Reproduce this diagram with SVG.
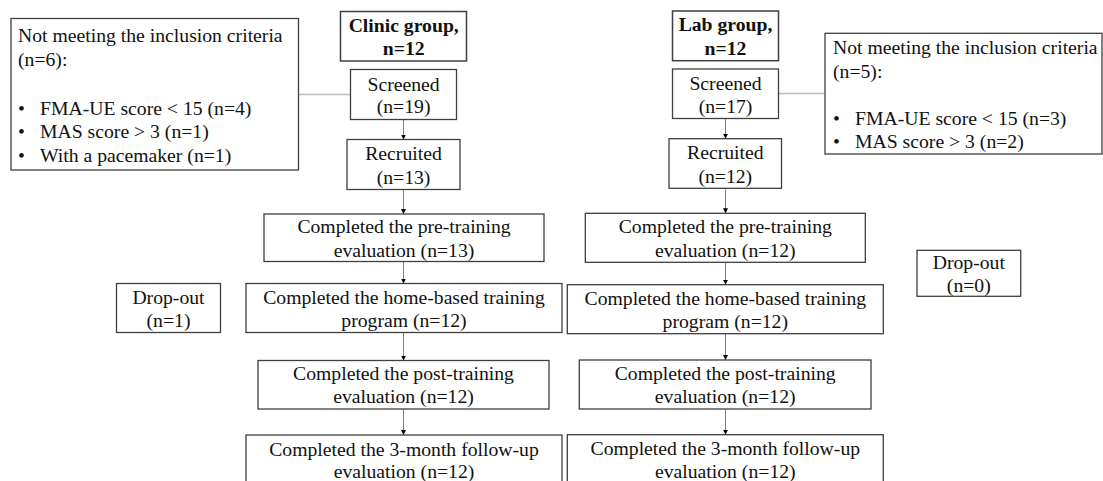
<svg xmlns="http://www.w3.org/2000/svg" width="1103" height="481" viewBox="0 0 1103 481">
<style>
  .box { fill: #ffffff; stroke: #3f3f3f; stroke-width: 1.3; }
  .hd { stroke-width: 1.5; }
  text { font-family: "Liberation Serif", "Times New Roman", serif; font-size: 19.7px; fill: #111111; }
  .c { text-anchor: middle; }
  .b { font-weight: bold; }
  .v { stroke: #7f7f7f; stroke-width: 1; fill: none; }
  .h { stroke: #bdbdbd; stroke-width: 1.3; fill: none; }
</style>
<defs>
  <marker id="arr" markerUnits="userSpaceOnUse" markerWidth="6" markerHeight="6" refX="5" refY="2.5" orient="auto">
    <path d="M0,0 L5,2.5 L0,5 Z" fill="#000000"/>
  </marker>
</defs>
<rect width="1103" height="481" fill="#ffffff"/>

<g id="connectors">
  <line class="h" x1="298.5" y1="94.5" x2="350.5" y2="94.5"/>
  <line class="h" x1="778.5" y1="93.5" x2="825" y2="93.5"/>
  <line class="v" x1="403.5" y1="119.5" x2="403.5" y2="139.5" marker-end="url(#arr)"/>
  <line class="v" x1="403.5" y1="189.5" x2="403.5" y2="214" marker-end="url(#arr)"/>
  <line class="v" x1="403.5" y1="261.5" x2="403.5" y2="283.5" marker-end="url(#arr)"/>
  <line class="v" x1="403.5" y1="332.5" x2="403.5" y2="360.5" marker-end="url(#arr)"/>
  <line class="v" x1="403.5" y1="409" x2="403.5" y2="435" marker-end="url(#arr)"/>
  <line class="v" x1="725.5" y1="118.5" x2="725.5" y2="138.7" marker-end="url(#arr)"/>
  <line class="v" x1="725.5" y1="188.3" x2="725.5" y2="213.3" marker-end="url(#arr)"/>
  <line class="v" x1="725.5" y1="262.3" x2="725.5" y2="284.7" marker-end="url(#arr)"/>
  <line class="v" x1="725.5" y1="333.7" x2="725.5" y2="360" marker-end="url(#arr)"/>
  <line class="v" x1="725.5" y1="409" x2="725.5" y2="434.7" marker-end="url(#arr)"/>
</g>

<g id="criteria-left">
  <rect class="box" x="11" y="18.5" width="287.5" height="151.5"/>
  <text x="18" y="42.3">Not meeting the inclusion criteria</text>
  <text x="18" y="65.6">(n=6):</text>
  <text x="18" y="115">•</text><text x="40" y="115">FMA-UE score &lt; 15 (n=4)</text>
  <text x="18" y="138.3">•</text><text x="40" y="138.3">MAS score &gt; 3 (n=1)</text>
  <text x="18" y="161.6">•</text><text x="40" y="161.6">With a pacemaker (n=1)</text>
</g>

<g id="clinic-group">
  <rect class="box hd" x="340.5" y="11.5" width="126" height="49.5"/>
  <text class="c b" x="403.7" y="31.7">Clinic group,</text>
  <text class="c b" x="403.7" y="55">n=12</text>
</g>

<g id="screened-left">
  <rect class="box" x="350.5" y="69.5" width="106" height="50"/>
  <text class="c" x="403.6" y="90.5">Screened</text>
  <text class="c" x="403.6" y="113">(n=19)</text>
</g>

<g id="recruited-left">
  <rect class="box" x="347" y="139.5" width="113" height="50"/>
  <text class="c" x="403.5" y="160.3">Recruited</text>
  <text class="c" x="403.5" y="183.5">(n=13)</text>
</g>

<g id="pre-left">
  <rect class="box" x="264" y="214" width="280" height="47.5"/>
  <text class="c" x="404" y="233.2">Completed the pre-training</text>
  <text class="c" x="404" y="256.5">evaluation (n=13)</text>
</g>

<g id="dropout-left">
  <rect class="box" x="116.5" y="283.5" width="104" height="49"/>
  <text class="c" x="168.5" y="303.5">Drop-out</text>
  <text class="c" x="168.5" y="326.8">(n=1)</text>
</g>

<g id="home-left">
  <rect class="box" x="246" y="283.5" width="316" height="49"/>
  <text class="c" x="404" y="303.5">Completed the home-based training</text>
  <text class="c" x="404" y="326.8">program (n=12)</text>
</g>

<g id="post-left">
  <rect class="box" x="258" y="360.5" width="291" height="48.5"/>
  <text class="c" x="403.5" y="380">Completed the post-training</text>
  <text class="c" x="403.5" y="403.4">evaluation (n=12)</text>
</g>

<g id="follow-left">
  <rect class="box" x="246" y="435" width="316" height="55"/>
  <text class="c" x="404" y="455.5">Completed the 3-month follow-up</text>
  <text class="c" x="404" y="478">evaluation (n=12)</text>
</g>

<g id="lab-group">
  <rect class="box hd" x="672.5" y="11" width="106" height="49.7"/>
  <text class="c b" x="725.5" y="31.3">Lab group,</text>
  <text class="c b" x="725.5" y="54.6">n=12</text>
</g>

<g id="screened-right">
  <rect class="box" x="672.5" y="69" width="106" height="49.5"/>
  <text class="c" x="725.5" y="89.8">Screened</text>
  <text class="c" x="725.5" y="112.6">(n=17)</text>
</g>

<g id="recruited-right">
  <rect class="box" x="669" y="138.7" width="112.5" height="49.6"/>
  <text class="c" x="725.3" y="159.3">Recruited</text>
  <text class="c" x="725.3" y="182.5">(n=12)</text>
</g>

<g id="criteria-right">
  <rect class="box" x="825" y="33.3" width="277" height="120.7"/>
  <text x="833" y="54.3">Not meeting the inclusion criteria</text>
  <text x="833" y="77.6">(n=5):</text>
  <text x="833" y="125">•</text><text x="855" y="125">FMA-UE score &lt; 15 (n=3)</text>
  <text x="833" y="148.3">•</text><text x="855" y="148.3">MAS score &gt; 3 (n=2)</text>
</g>

<g id="pre-right">
  <rect class="box" x="585.3" y="213.3" width="280" height="49"/>
  <text class="c" x="725.3" y="233.3">Completed the pre-training</text>
  <text class="c" x="725.3" y="256.6">evaluation (n=12)</text>
</g>

<g id="home-right">
  <rect class="box" x="567.3" y="284.7" width="316" height="49"/>
  <text class="c" x="725.3" y="304.7">Completed the home-based training</text>
  <text class="c" x="725.3" y="328">program (n=12)</text>
</g>

<g id="dropout-right">
  <rect class="box" x="917" y="250.3" width="103.7" height="46"/>
  <text class="c" x="968.8" y="268.8">Drop-out</text>
  <text class="c" x="968.8" y="292.1">(n=0)</text>
</g>

<g id="post-right">
  <rect class="box" x="579.3" y="360" width="291.7" height="49"/>
  <text class="c" x="725.2" y="380">Completed the post-training</text>
  <text class="c" x="725.2" y="403.3">evaluation (n=12)</text>
</g>

<g id="follow-right">
  <rect class="box" x="567.3" y="434.7" width="316" height="55"/>
  <text class="c" x="725.3" y="455.3">Completed the 3-month follow-up</text>
  <text class="c" x="725.3" y="478">evaluation (n=12)</text>
</g>
</svg>
